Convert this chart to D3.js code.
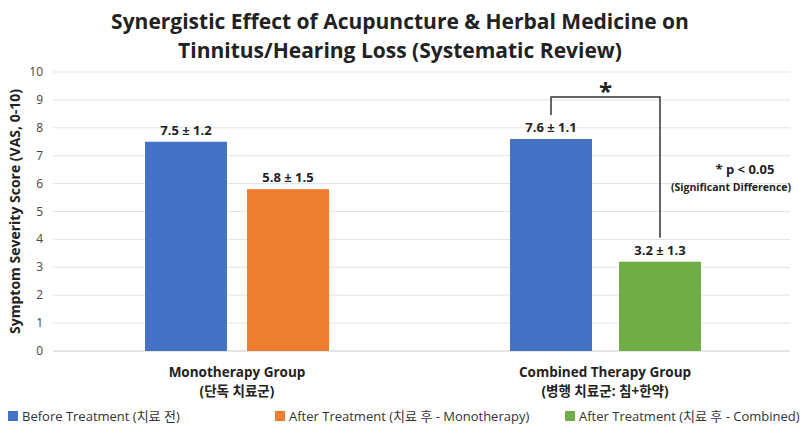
<!DOCTYPE html>
<html><head><meta charset="utf-8">
<script src="https://cdn.jsdelivr.net/npm/d3@7"></script>
<style>body{margin:0;background:#fff}text{font-family:"Open Sans","Noto Sans CJK KR",sans-serif}</style>
</head><body><svg id="c" width="800" height="436"></svg>
<script>
var groups = ['Monotherapy Group', 'Combined Therapy Group'],
    groupSub = ['(단독 치료군)', '(병행 치료군: 침+한약)'],
    beforeVals = [7.5, 7.6], beforeSd = [1.2, 1.1],
    afterVals = [5.8, 3.2], afterSd = [1.5, 1.3],
    afterColors = ['#ed7d31', '#70ad47'],
    legendLabels = ['Before Treatment (치료 전)', 'After Treatment (치료 후 - Monotherapy)', 'After Treatment (치료 후 - Combined)'],
    legendColors = ['#4472c4', '#ed7d31', '#70ad47'],
    yTicks = d3.range(0, 11);

var svg = d3.select('#c'),
    pLeft = 53, pRight = 790, pTop = 72, pBottom = 351;

var y = d3.scaleLinear().domain([0, 10]).range([pBottom, pTop]);

svg.append('text').attr('x', 400).attr('y', 29).attr('text-anchor', 'middle')
    .attr('font-size', 21).attr('font-weight', 700).attr('fill', '#222')
    .text('Synergistic Effect of Acupuncture & Herbal Medicine on');
svg.append('text').attr('x', 400).attr('y', 58).attr('text-anchor', 'middle')
    .attr('font-size', 21).attr('font-weight', 700).attr('fill', '#222')
    .text('Tinnitus/Hearing Loss (Systematic Review)');

// grid + y axis labels
svg.append('g').selectAll('line').data(yTicks).join('line')
    .attr('x1', pLeft).attr('x2', pRight)
    .attr('y1', function (d) { return y(d); }).attr('y2', function (d) { return y(d); })
    .attr('stroke', function (d) { return d === 0 ? '#ccc' : '#e3e3e3'; });
svg.append('g').selectAll('text').data(yTicks).join('text')
    .attr('x', 43).attr('y', function (d) { return y(d) + 4; })
    .attr('text-anchor', 'end').attr('font-size', 12).attr('fill', '#444')
    .text(function (d) { return d; });
svg.append('text').attr('transform', 'translate(20,' + ((pTop + pBottom) / 2) + ') rotate(-90)')
    .attr('text-anchor', 'middle').attr('font-size', 14).attr('font-weight', 700).attr('fill', '#222')
    .text('Symptom Severity Score (VAS, 0-10)');

var centers = [237, 605], bw = 82, gap = 20;
var bars = [];
groups.forEach(function (g, i) {
    bars.push({x: centers[i] - gap / 2 - bw, v: beforeVals[i], sd: beforeSd[i], c: legendColors[0]});
    bars.push({x: centers[i] + gap / 2, v: afterVals[i], sd: afterSd[i], c: afterColors[i]});
});
bars[3].x += 4; bars[2].x -= 3;

svg.append('g').selectAll('rect').data(bars).join('rect')
    .attr('x', function (d) { return d.x; }).attr('width', bw)
    .attr('y', function (d) { return y(d.v); })
    .attr('height', function (d) { return y(0) - y(d.v); })
    .attr('fill', function (d) { return d.c; });
svg.append('g').selectAll('text').data(bars).join('text')
    .attr('x', function (d) { return d.x + bw / 2; })
    .attr('y', function (d) { return y(d.v) - 7; })
    .attr('text-anchor', 'middle').attr('font-size', 13).attr('font-weight', 700).attr('fill', '#222')
    .text(function (d) { return d.v.toFixed(1) + ' ± ' + d.sd.toFixed(1); });

// significance bracket
var bx1 = bars[2].x + bw / 2, bx2 = bars[3].x + bw / 2, by = 97;
svg.append('path')
    .attr('d', 'M' + bx1 + ',' + (y(bars[2].v) - 24) + 'V' + by + 'H' + bx2 + 'V' + (y(bars[3].v) - 24))
    .attr('fill', 'none').attr('stroke', '#333').attr('stroke-width', 1.5);
svg.append('text').attr('x', (bx1 + bx2) / 2).attr('y', 100).attr('text-anchor', 'middle')
    .attr('font-size', 24).attr('font-weight', 700).attr('fill', '#222').text('*');
svg.append('text').attr('x', 745).attr('y', 174).attr('text-anchor', 'middle')
    .attr('font-size', 13).attr('font-weight', 700).attr('fill', '#222').text('* p < 0.05');
svg.append('text').attr('x', 731).attr('y', 191).attr('text-anchor', 'middle')
    .attr('font-size', 10.5).attr('font-weight', 700).attr('fill', '#222').text('(Significant Difference)');

// category labels
groups.forEach(function (g, i) {
    var cx = centers[i];
    svg.append('text').attr('x', cx).attr('y', 377).attr('text-anchor', 'middle')
        .attr('font-size', 13.5).attr('font-weight', 700).attr('fill', '#222').text(g);
    svg.append('text').attr('x', cx).attr('y', 396).attr('text-anchor', 'middle')
        .attr('font-size', 13.5).attr('font-weight', 700).attr('fill', '#222').text(groupSub[i]);
});

// legend
var lx = [8, 275, 565];
var lg = svg.append('g').selectAll('g').data(legendLabels).join('g')
    .attr('transform', function (d, i) { return 'translate(' + lx[i] + ',421)'; });
lg.append('rect').attr('y', -10).attr('width', 10).attr('height', 10)
    .attr('fill', function (d, i) { return legendColors[i]; });
lg.append('text').attr('x', 14).attr('y', 0).attr('font-size', 13).attr('fill', '#333')
    .text(function (d) { return d; });
</script></body></html>
